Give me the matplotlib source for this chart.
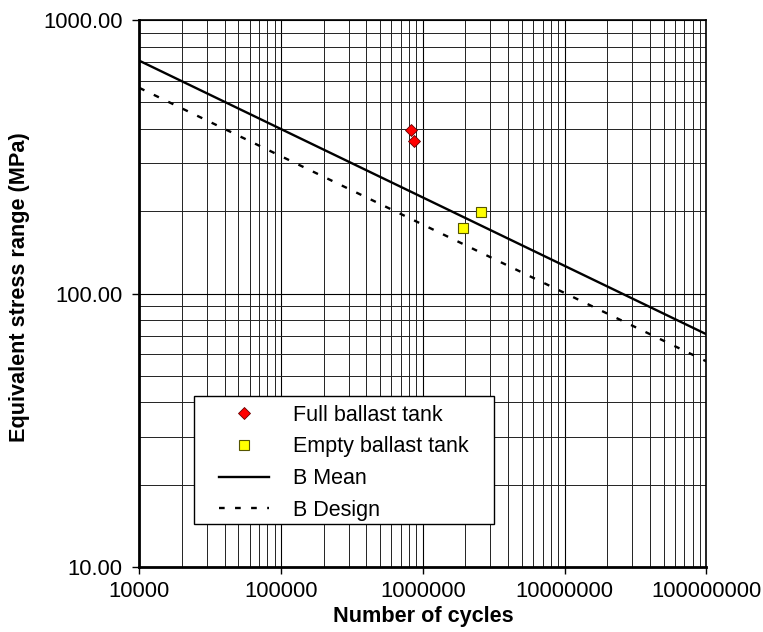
import matplotlib
matplotlib.use("Agg")
import matplotlib.pyplot as plt
from matplotlib.patches import Rectangle
from matplotlib.ticker import LogLocator, FixedLocator, FixedFormatter, NullFormatter

plt.rcParams['font.family'] = ['Liberation Sans', 'DejaVu Sans']

# Test points
full_cycles = [8.2e5, 8.6e5]
full_stress = [397, 361]
empty_cycles = [1.92e6, 2.59e6]
empty_stress = [173, 199]

# S-N curve B (mean and design), end points
curve_cycles = [1e4, 1e8]
mean_stress = [710, 71]
design_stress = [565, 56.5]

x_ticks = [1e4, 1e5, 1e6, 1e7, 1e8]
x_tick_labels = ["10000", "100000", "1000000", "10000000", "100000000"]
y_ticks = [10, 100, 1000]
y_tick_labels = ["10.00", "100.00", "1000.00"]

fig = plt.figure(figsize=(7.63, 6.32), dpi=100)
ax = fig.add_axes([0.1826, 0.1028, 0.7431, 0.8655])
ax.set_xscale('log')
ax.set_yscale('log')
ax.set_xlim(1e4, 1e8)
ax.set_ylim(10, 1000)

ax.plot(curve_cycles, mean_stress, color='black', lw=1.7, label='B Mean', zorder=3)
ax.plot(curve_cycles, design_stress, color='black', lw=1.7,
        linestyle=(0, (2.4, 4.4)), label='B Design', zorder=3)
ax.plot(full_cycles, full_stress, linestyle='none', marker='D', ms=6.4,
        markerfacecolor='#ff0000', markeredgecolor='#660000', markeredgewidth=0.6,
        label='Full ballast tank', zorder=4)
ax.plot(empty_cycles, empty_stress, linestyle='none', marker='s', ms=7.8,
        markerfacecolor='#ffff00', markeredgecolor='#555500', markeredgewidth=0.8,
        label='Empty ballast tank', zorder=4)

ax.xaxis.set_major_locator(FixedLocator(x_ticks))
ax.xaxis.set_major_formatter(FixedFormatter(x_tick_labels))
ax.yaxis.set_major_locator(FixedLocator(y_ticks))
ax.yaxis.set_major_formatter(FixedFormatter(y_tick_labels))
ax.xaxis.set_minor_locator(LogLocator(base=10, subs=range(2, 10)))
ax.yaxis.set_minor_locator(LogLocator(base=10, subs=range(2, 10)))
ax.xaxis.set_minor_formatter(NullFormatter())
ax.yaxis.set_minor_formatter(NullFormatter())

ax.grid(True, which='major', color='black', lw=0.8, zorder=1)
ax.grid(True, which='minor', color='#222222', lw=0.7, zorder=1)
ax.set_axisbelow(True)

ax.tick_params(which='major', direction='out', length=5, width=1.0,
               labelsize=15.8, color='black')
ax.tick_params(axis='y', which='major', pad=7)
ax.tick_params(axis='x', which='major', pad=5)
ax.tick_params(which='minor', length=0)

for side in ['top', 'right']:
    ax.spines[side].set_linewidth(1.2)
for side in ['left', 'bottom']:
    ax.spines[side].set_linewidth(2.0)

ax.set_xlabel('Number of cycles', fontsize=15.6, fontweight='bold', labelpad=3)
ax.set_ylabel('Equivalent stress range (MPa)', fontsize=15.6, fontweight='bold')
ax.yaxis.set_label_coords(-0.192, 0.512)

# Legend frame drawn as a separate box so the entries can sit inset
legend_box = Rectangle((0.0958, 0.078), 0.530, 0.2355, transform=ax.transAxes,
                       facecolor='white', edgecolor='black', lw=1.0, zorder=4.8)
ax.add_patch(legend_box)

handles, labels = ax.get_legend_handles_labels()
order = [2, 3, 0, 1]
leg = ax.legend([handles[i] for i in order], [labels[i] for i in order],
                loc='upper left', bbox_to_anchor=(0.1411, 0.297),
                fontsize=15.5, frameon=False, handlelength=2.33,
                handletextpad=1.09, labelspacing=0.50, borderpad=0.0,
                borderaxespad=0.0)
leg.set_zorder(5)

fig.savefig('out.png', dpi=100)
